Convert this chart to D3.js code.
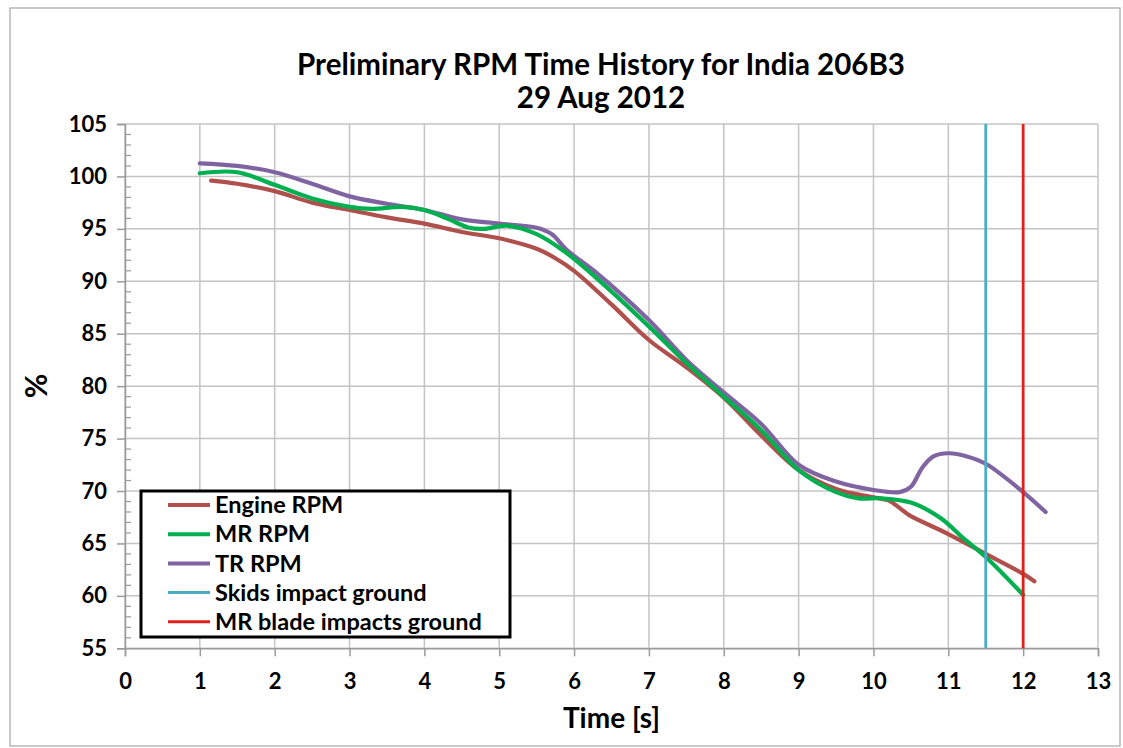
<!DOCTYPE html>
<html>
<head>
<meta charset="utf-8">
<script src="https://cdn.jsdelivr.net/npm/d3@7"></script>
<style>
html,body{margin:0;padding:0;background:#fff;}
svg{display:block;}
text{font-family:Lato,"Open Sans",sans-serif;font-weight:bold;fill:#000;}
</style>
</head>
<body>
<svg id="chart" width="1123" height="748"></svg>
<script>
// ---- data ----
const engineT = [1.15,1.5,2,2.5,3,3.5,4,4.5,5,5.5,5.75,6,6.5,7,7.5,8,8.5,9,9.5,10,10.2,10.4,10.5,11,11.5,12,12.15];
const engineV = [99.6,99.3,98.6,97.5,96.8,96.1,95.5,94.7,94.1,93.1,92.2,91.0,87.8,84.4,81.8,78.9,75.3,72.0,70.2,69.4,69.1,68.1,67.6,65.9,64.0,62.1,61.4];
const mrT = [1,1.5,2,2.5,3,3.3,3.7,4,4.3,4.6,4.8,5.1,5.5,5.9,6.3,7,7.5,8,8.5,9,9.5,9.8,10.1,10.5,10.9,11.2,11.5,12];
const mrV = [100.3,100.4,99.2,97.9,97.1,96.9,97.1,96.8,96.0,95.1,95.0,95.3,94.5,92.7,90.3,85.7,82.2,79.0,75.8,72.0,69.9,69.3,69.3,68.9,67.4,65.5,63.7,60.1];
const trT = [1,1.5,2,2.5,3,3.5,4,4.5,5,5.5,5.7,5.9,6.3,7,7.5,8,8.5,9,9.5,10,10.35,10.5,10.65,10.8,11,11.25,11.5,12,12.3];
const trV = [101.25,101.0,100.4,99.3,98.1,97.4,96.8,95.9,95.5,95.1,94.5,93.0,90.8,86.3,82.5,79.4,76.4,72.5,70.9,70.1,69.9,70.4,72.2,73.3,73.6,73.3,72.6,69.9,68.0];
const eventNames = ["Skids impact ground","MR blade impacts ground"];
const eventTimes = [11.5, 12];
const seriesNames = ["Engine RPM","MR RPM","TR RPM"];
const xTicks = [0,1,2,3,4,5,6,7,8,9,10,11,12,13];
const yTicks = [55,60,65,70,75,80,85,90,95,100,105];
const titleLines = ["Preliminary RPM Time History for India 206B3","29 Aug 2012"];

// ---- layout ----
const svg = d3.select("#chart");
const L = 125, R = 1098, T = 124, B = 648.3;
const x = d3.scaleLinear().domain([0,13]).range([L,R]);
const y = d3.scaleLinear().domain([55,105]).range([B,T]);
const FONT = "Lato,'Open Sans',sans-serif";

// outer border
svg.append("rect").attr("x",10).attr("y",8).attr("width",1110).attr("height",738)
  .attr("fill","#fff").attr("stroke","#a6a6a6").attr("stroke-width",1.2);

// title
svg.append("text").attr("x",601).attr("y",75).attr("text-anchor","middle")
  .style("font-size","29.5px").style("font-weight","bold").text(titleLines[0]);
svg.append("text").attr("x",601).attr("y",108).attr("text-anchor","middle")
  .style("font-size","29.5px").style("font-weight","bold").text(titleLines[1]);

const gridColor = "#c4c4c4", axisColor = "#9a9a9a";

// gridlines
svg.append("g").selectAll("line").data(yTicks).join("line")
  .attr("x1",L).attr("x2",R).attr("y1",d=>y(d)).attr("y2",d=>y(d))
  .attr("stroke",gridColor).attr("stroke-width",1.5);
svg.append("g").selectAll("line").data(xTicks).join("line")
  .attr("y1",T).attr("y2",B).attr("x1",d=>x(d)).attr("x2",d=>x(d))
  .attr("stroke",gridColor).attr("stroke-width",1.5);

// y axis
const yAxis = d3.axisLeft(y).tickValues(yTicks).tickSize(8).tickPadding(5);
const gy = svg.append("g").attr("transform",`translate(${L},0)`).call(yAxis);
gy.select(".domain").attr("stroke",axisColor).attr("stroke-width",1.5);
gy.selectAll(".tick line").attr("stroke",axisColor).attr("stroke-width",1.5);
gy.selectAll(".tick text").style("font-size","22px").style("font-family",FONT).style("font-weight","bold").attr("fill","#000").attr("dx","-5");
// minor ticks (inside)
const minor = d3.range(55,105,1).filter(v=>v%5!==0);
svg.append("g").selectAll("line").data(minor).join("line")
  .attr("x1",L).attr("x2",L+6).attr("y1",d=>y(d)).attr("y2",d=>y(d))
  .attr("stroke",axisColor).attr("stroke-width",1.2);

// x axis
const xAxis = d3.axisBottom(x).tickValues(xTicks).tickSize(8).tickPadding(17);
const gx = svg.append("g").attr("transform",`translate(0,${B})`).call(xAxis);
gx.select(".domain").attr("stroke",axisColor).attr("stroke-width",1.5);
gx.selectAll(".tick line").attr("stroke",axisColor).attr("stroke-width",1.5);
gx.selectAll(".tick text").style("font-size","22px").style("font-family",FONT).style("font-weight","bold").attr("fill","#000");

// axis titles
svg.append("text").attr("x",x(6.5)).attr("y",728).attr("text-anchor","middle")
  .style("font-size","28px").text("Time [s]");
svg.append("text").attr("transform","translate(47,386) rotate(-90)").attr("text-anchor","middle")
  .style("font-size","30px").text("%");

// series
const colors = ["#b0504d","#00b050","#8064a2"];
const eventColors = ["#4bacc6","#e0201b"];
const series = [
  {name:seriesNames[0], t:engineT, v:engineV, c:colors[0]},
  {name:seriesNames[1], t:mrT, v:mrV, c:colors[1]},
  {name:seriesNames[2], t:trT, v:trV, c:colors[2]}
];
const line = d3.line().x(d=>x(d[0])).y(d=>y(d[1])).curve(d3.curveCatmullRom.alpha(0.5));
const order = [0,2,1];
order.forEach(i=>{
  const s = series[i];
  svg.append("path").datum(s.t.map((t,k)=>[t,s.v[k]]))
    .attr("d",line).attr("fill","none").attr("stroke",s.c)
    .attr("stroke-width",4.2).attr("stroke-linecap","round").attr("stroke-linejoin","round");
});

// event lines
svg.append("g").selectAll("line").data(eventTimes).join("line")
  .attr("x1",d=>x(d)).attr("x2",d=>x(d)).attr("y1",T).attr("y2",B)
  .attr("stroke",(d,i)=>eventColors[i]).attr("stroke-width",2.8);

// legend
const lg = svg.append("g");
lg.append("rect").attr("x",141).attr("y",491).attr("width",369).attr("height",146)
  .attr("fill","#fff").attr("stroke","#000").attr("stroke-width",3);
const legendItems = [
  {name:seriesNames[0], c:colors[0], w:4},
  {name:seriesNames[1], c:colors[1], w:4},
  {name:seriesNames[2], c:colors[2], w:4},
  {name:eventNames[0], c:eventColors[0], w:3},
  {name:eventNames[1], c:eventColors[1], w:3}
];
legendItems.forEach((d,i)=>{
  const yy = 505 + i*29.2;
  lg.append("line").attr("x1",168).attr("x2",210).attr("y1",yy).attr("y2",yy)
    .attr("stroke",d.c).attr("stroke-width",d.w);
  lg.append("text").attr("x",215).attr("y",yy).attr("dy","0.35em")
    .style("font-size","23.5px").text(d.name);
});
</script>
</body>
</html>
